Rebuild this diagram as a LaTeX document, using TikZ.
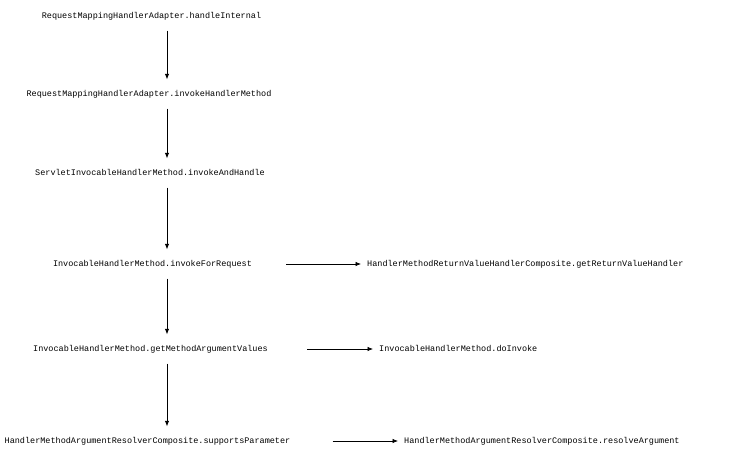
\documentclass[tikz,border=0pt]{standalone}
\usepackage{fontspec}
\setmonofont{Liberation Mono}
\usetikzlibrary{positioning,arrows.meta,calc}

\begin{document}
\begin{tikzpicture}[
  x=1pt, y=-1pt,
  call/.style={inner xsep=6pt, inner ysep=10.5pt, text height=6pt, text depth=2pt, font=\fontsize{8.5}{10}\selectfont\ttfamily},
  arrow/.style={-{Latex[length=5.5pt,width=4.5pt]}, line width=0.7pt},
]
\useasboundingbox (0,0) rectangle (732,458);
\coordinate (axis) at (167,0);

% Main chain
\node[call] (m1) at (151.5,16) {RequestMappingHandlerAdapter.handleInternal};
\node[call] (m2) at (149,94) {RequestMappingHandlerAdapter.invokeHandlerMethod};
\node[call] (m3) at (150,173) {ServletInvocableHandlerMethod.invokeAndHandle};
\node[call] (m4) at (152.5,264) {InvocableHandlerMethod.invokeForRequest};
\node[call] (m5) at (150.5,349) {InvocableHandlerMethod.getMethodArgumentValues};
\node[call] (m6) at (147.5,441) {HandlerMethodArgumentResolverComposite.supportsParameter};

% Side calls
\node[call, anchor=west] (r4) at (361,264) {HandlerMethodReturnValueHandlerComposite.getReturnValueHandler};
\node[call, anchor=west] (r5) at (373,349) {InvocableHandlerMethod.doInvoke};
\node[call, anchor=west] (r6) at (398,441) {HandlerMethodArgumentResolverComposite.resolveArgument};

% Vertical arrows
\foreach \a/\b in {m1/m2, m2/m3, m3/m4, m4/m5, m5/m6}
  \draw[arrow] (\a.south -| axis) -- (\b.north -| axis);

% Horizontal arrows
\draw[arrow, shorten <=28pt] (m4.east) -- (r4.west);
\draw[arrow, shorten <=33pt] (m5.east) -- (r5.west);
\draw[arrow, shorten <=36pt] (m6.east) -- (r6.west);

\end{tikzpicture}
\end{document}
